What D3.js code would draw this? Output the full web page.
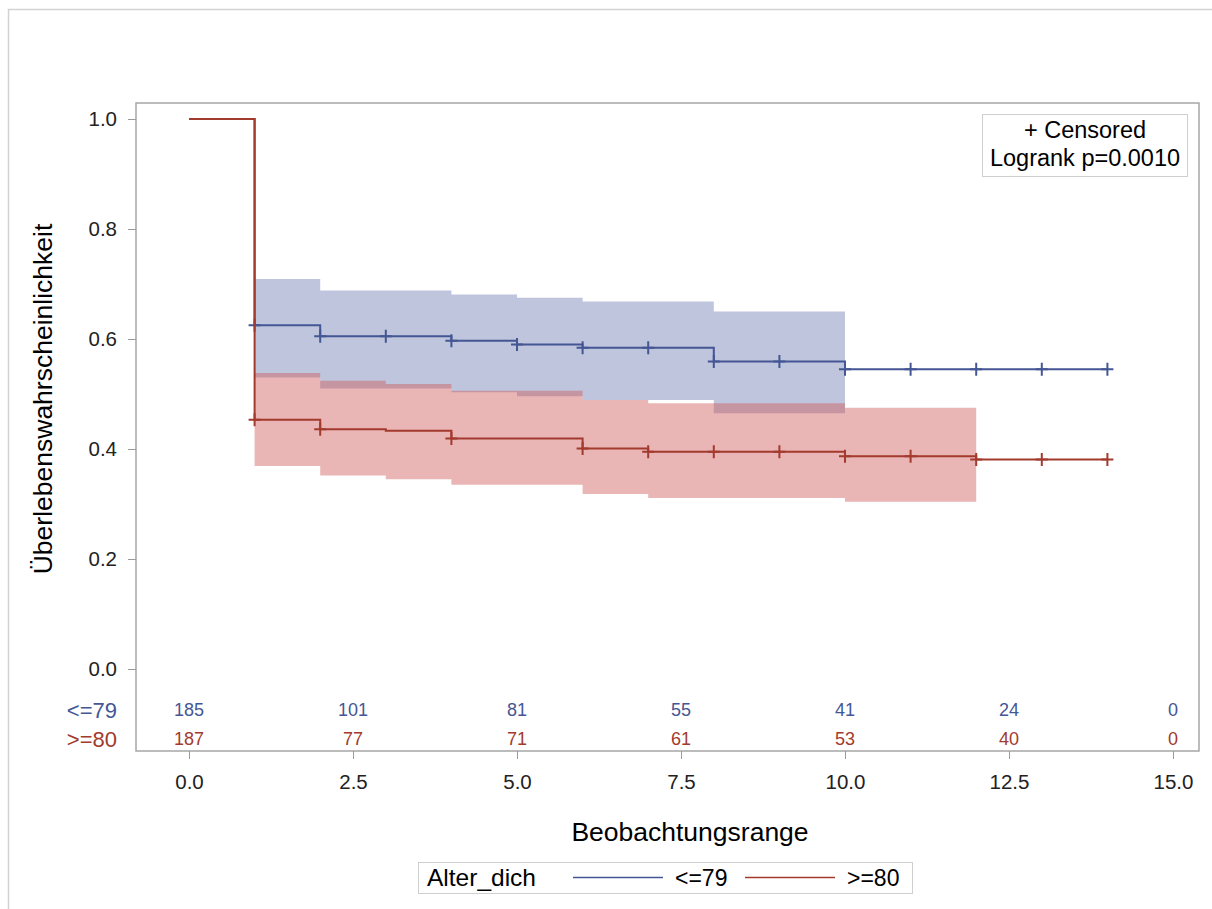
<!DOCTYPE html>
<html>
  <head>
    <meta charset="utf-8">
    <style>
    body { margin: 0; background: white; }
    * { font-family: "Liberation Sans", Arial, sans-serif; }
    .tick line { stroke: #9a9a9a; }
    .tick text { fill: #222; font-size: 20.5px; }
    </style>
  </head>
  <body>
    <div id="chart"></div>
    <script src="https://cdn.jsdelivr.net/npm/d3@7"></script>
    <script>

  // ---- data ----
  var groups = ["<=79", ">=80"];
  var groupColors = ["#445694", "#A23A2E"];
  var bandColors = ["#6F7EB3", "#D05B5B"];

  // survival steps (time where a step starts, value after it)
  var blueTimes = [0, 1, 2, 4, 5, 6, 8, 10];
  var blueSurv  = [1.0, 0.625, 0.605, 0.597, 0.590, 0.584, 0.559, 0.545];
  var redTimes  = [0, 1, 2, 3, 4, 6, 7, 10, 12];
  var redSurv   = [1.0, 0.453, 0.436, 0.433, 0.419, 0.401, 0.395, 0.387, 0.381];
  var lastTime  = 14;

  // confidence bands
  var blueBandTimes = [1, 2, 4, 5, 6, 8];
  var blueUpper = [0.709, 0.688, 0.681, 0.675, 0.668, 0.650];
  var blueLower = [0.530, 0.510, 0.503, 0.496, 0.489, 0.465];
  var blueBandEnd = 10;
  var redBandTimes = [1, 2, 3, 4, 6, 7, 10];
  var redUpper = [0.538, 0.524, 0.518, 0.506, 0.489, 0.483, 0.475];
  var redLower = [0.369, 0.352, 0.345, 0.335, 0.318, 0.311, 0.304];
  var redBandEnd = 12;

  // censored observations
  var blueCensor = [1, 2, 3, 4, 5, 6, 7, 8, 9, 10, 11, 12, 13, 14];
  var redCensor  = [1, 2, 4, 6, 7, 8, 9, 10, 11, 12, 13, 14];

  // numbers at risk
  var riskTimes = [0, 2.5, 5, 7.5, 10, 12.5, 15];
  var blueRisk = [185, 101, 81, 55, 41, 24, 0];
  var redRisk  = [187, 77, 71, 61, 53, 40, 0];

  var xTicks = [0, 2.5, 5, 7.5, 10, 12.5, 15];
  var yTicks = [0, 0.2, 0.4, 0.6, 0.8, 1.0];

  // ---- layout ----
  var W = 1212, H = 909;
  var plot = { left: 136, right: 1199, top: 103, bottom: 751 };

  var svg = d3.select("#chart").append("svg")
    .attr("width", W)
    .attr("height", H);

  // outer frame (only top/left visible)
  svg.append("path")
    .attr("d", "M8.5," + H + "V9.5H" + W)
    .attr("fill", "none")
    .attr("stroke", "#d2d2d2")
    .attr("stroke-width", 1.5);

  var x = d3.scaleLinear().domain([0, 15]).range([189, 1173]);
  var y = d3.scaleLinear().domain([0, 1]).range([669, 119]);

  function steps(times, vals, end) {
    var pts = times.map(function(t, i) { return [t, vals[i]]; });
    pts.push([end, vals[vals.length - 1]]);
    return pts;
  }
  function bands(times, lo, hi, end) {
    var pts = times.map(function(t, i) { return { t: t, lo: lo[i], hi: hi[i] }; });
    pts.push({ t: end, lo: lo[lo.length - 1], hi: hi[hi.length - 1] });
    return pts;
  }
  function survAt(times, vals, t) {
    return vals[d3.bisectRight(times, t) - 1];
  }

  var series = [
    { curve: steps(blueTimes, blueSurv, lastTime), band: bands(blueBandTimes, blueLower, blueUpper, blueBandEnd),
      censor: blueCensor.map(function(t) { return [t, survAt(blueTimes, blueSurv, t)]; }) },
    { curve: steps(redTimes, redSurv, lastTime), band: bands(redBandTimes, redLower, redUpper, redBandEnd),
      censor: redCensor.map(function(t) { return [t, survAt(redTimes, redSurv, t)]; }) }
  ];

  var area = d3.area()
    .curve(d3.curveStepAfter)
    .x(function(d) { return x(d.t); })
    .y0(function(d) { return y(d.lo); })
    .y1(function(d) { return y(d.hi); });

  var line = d3.line()
    .curve(d3.curveStepAfter)
    .x(function(d) { return x(d[0]); })
    .y(function(d) { return y(d[1]); });

  // bands
  svg.append("g").selectAll("path")
    .data(series)
    .enter().append("path")
    .attr("d", function(d) { return area(d.band); })
    .attr("fill", function(d, i) { return bandColors[i]; })
    .attr("fill-opacity", 0.45);

  // curves + censor marks
  series.forEach(function(s, i) {
    var g = svg.append("g");
    g.append("path")
      .attr("d", line(s.curve))
      .attr("fill", "none")
      .attr("stroke", groupColors[i])
      .attr("stroke-width", 2);
    g.selectAll(".cens")
      .data(s.censor)
      .enter().append("path")
      .attr("transform", function(d) { return "translate(" + x(d[0]) + "," + y(d[1]) + ")"; })
      .attr("d", "M-6,0H6M0,-6.5V6.5")
      .attr("stroke", groupColors[i])
      .attr("stroke-width", 2);
  });

  // frame
  svg.append("rect")
    .attr("x", plot.left)
    .attr("y", plot.top)
    .attr("width", plot.right - plot.left)
    .attr("height", plot.bottom - plot.top)
    .attr("fill", "none")
    .attr("stroke", "#a6a6a6")
    .attr("stroke-width", 1.5);

  // axes
  var yaxis = d3.axisLeft(y).tickValues(yTicks).tickSize(8).tickPadding(11)
    .tickFormat(d3.format(".1f"));
  svg.append("g")
    .attr("transform", "translate(" + plot.left + ",0)")
    .call(yaxis)
    .call(function(g) { g.select(".domain").remove(); });

  var xaxis = d3.axisBottom(x).tickValues(xTicks).tickSize(8).tickPadding(15)
    .tickFormat(d3.format(".1f"));
  svg.append("g")
    .attr("transform", "translate(0," + plot.bottom + ")")
    .call(xaxis)
    .call(function(g) { g.select(".domain").remove(); });

  // numbers at risk
  var riskRows = [blueRisk, redRisk];
  var riskY = [710, 739];
  riskRows.forEach(function(row, i) {
    svg.append("text")
      .attr("x", 117)
      .attr("y", riskY[i])
      .attr("dy", "0.35em")
      .attr("text-anchor", "end")
      .style("font-size", "22px")
      .style("fill", groupColors[i])
      .text(groups[i]);
    svg.append("g").selectAll("text")
      .data(row)
      .enter().append("text")
      .attr("x", function(d, j) { return x(riskTimes[j]); })
      .attr("y", riskY[i])
      .attr("dy", "0.35em")
      .attr("text-anchor", "middle")
      .style("font-size", "18px")
      .style("fill", groupColors[i])
      .text(function(d) { return d; });
  });

  // axis titles
  svg.append("text")
    .attr("x", 690)
    .attr("y", 841)
    .attr("text-anchor", "middle")
    .style("font-size", "26.5px")
    .style("fill", "#000")
    .text("Beobachtungsrange");

  svg.append("text")
    .attr("transform", "translate(52,399) rotate(-90)")
    .attr("text-anchor", "middle")
    .style("font-size", "26.5px")
    .style("fill", "#000")
    .text("Überlebenswahrscheinlichkeit");

  // inset box
  svg.append("rect")
    .attr("x", 982.5).attr("y", 114.5)
    .attr("width", 205).attr("height", 62)
    .attr("fill", "white")
    .attr("stroke", "#cfcfcf");
  svg.append("text")
    .attr("x", 1085).attr("y", 138)
    .attr("text-anchor", "middle")
    .style("font-size", "23.5px")
    .text("+ Censored");
  svg.append("text")
    .attr("x", 1085).attr("y", 166)
    .attr("text-anchor", "middle")
    .style("font-size", "23.5px")
    .text("Logrank p=0.0010");

  // bottom legend
  var legend = svg.append("g");
  legend.append("rect")
    .attr("x", 418.5).attr("y", 862.5)
    .attr("width", 494).attr("height", 31)
    .attr("fill", "white")
    .attr("stroke", "#cfcfcf");
  legend.append("text")
    .attr("x", 427).attr("y", 886)
    .style("font-size", "24.5px")
    .text("Alter_dich");
  var legX = [573, 745];
  groups.forEach(function(g, i) {
    legend.append("line")
      .attr("x1", legX[i]).attr("x2", legX[i] + 90)
      .attr("y1", 877.5).attr("y2", 877.5)
      .attr("stroke", groupColors[i])
      .attr("stroke-width", 1.5);
    legend.append("text")
      .attr("x", legX[i] + 102).attr("y", 886)
      .style("font-size", "23px")
      .text(g);
  });

    </script>
  </body>
</html>
